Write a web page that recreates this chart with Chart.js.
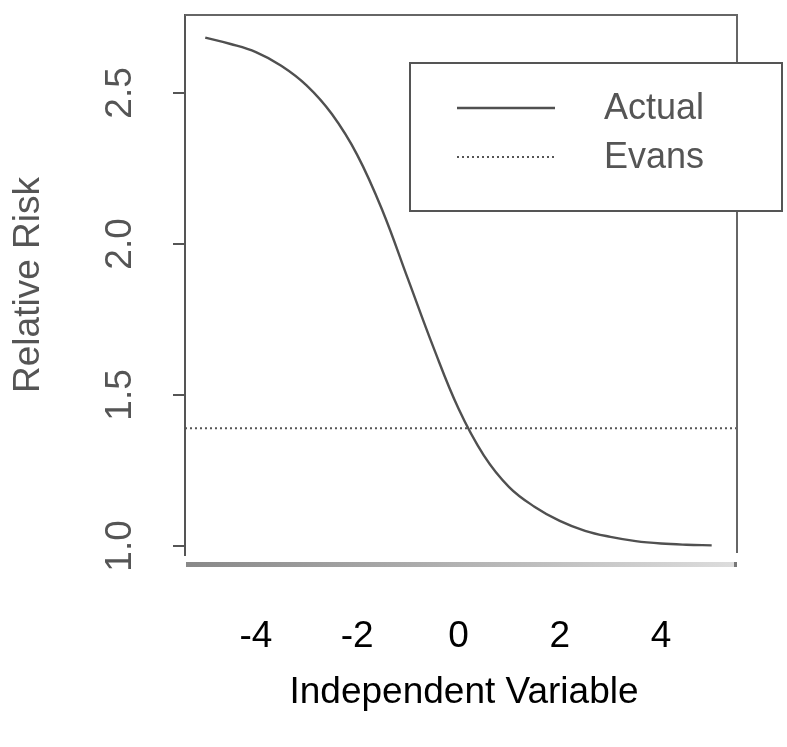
<!DOCTYPE html>
<html>
<head>
<meta charset="utf-8">
<script src="https://cdn.jsdelivr.net/npm/chart.js@4.4.1/dist/chart.umd.min.js"></script>
<style>
  html, body { margin: 0; padding: 0; background: #fff; }
  canvas { display: block; }
</style>
</head>
<body>
<canvas id="riskChart" width="787" height="747"></canvas>
<script>
// values
const actualX = [-5, -4.5, -4, -3.5, -3, -2.5, -2, -1.5, -1, -0.5, 0, 0.5, 1, 1.5, 2, 2.5, 3, 3.5, 4, 4.5, 5];
const actualY = [2.683, 2.662, 2.635, 2.59, 2.525, 2.43, 2.295, 2.11, 1.885, 1.66, 1.455, 1.30, 1.195, 1.13, 1.083, 1.05, 1.03, 1.016, 1.008, 1.004, 1.002];
const evansX = [-5.4, 5.5];
const evansY = [1.39, 1.39];
const xTicks = [-4, -2, 0, 2, 4];
const yTicks = [1.0, 1.5, 2.0, 2.5];
const xTitle = "Independent Variable";
const yTitle = "Relative Risk";

const FONT = "'Liberation Sans', Arial, Helvetica, sans-serif";
const GREY = "#555";

const toPoints = (xs, ys) => xs.map((x, i) => ({ x, y: ys[i] }));

// frame, rotated y labels, axis titles and the boxed legend, R style
const rFrame = {
  id: "rFrame",
  afterDraw(chart) {
    const { ctx, chartArea: a, scales } = chart;
    ctx.save();

    // top and right frame lines
    ctx.strokeStyle = "#666";
    ctx.lineWidth = 2;
    ctx.beginPath();
    ctx.moveTo(a.left, a.top);
    ctx.lineTo(a.right, a.top);
    ctx.lineTo(a.right, a.bottom - 2);
    ctx.stroke();

    // shaded bar under the plot
    const g = ctx.createLinearGradient(a.left, 0, a.right, 0);
    g.addColorStop(0, "#888");
    g.addColorStop(1, "#ddd");
    ctx.fillStyle = g;
    ctx.fillRect(a.left + 1, a.bottom + 7, a.right - a.left - 4, 5);
    ctx.fillStyle = "#777";
    ctx.fillRect(a.right - 3, a.bottom + 7, 3, 5);

    // y tick labels, rotated like R's las=0
    ctx.fillStyle = GREY;
    ctx.font = "37px " + FONT;
    ctx.textAlign = "center";
    ctx.textBaseline = "middle";
    yTicks.forEach(v => {
      const py = scales.y.getPixelForValue(v);
      ctx.save();
      ctx.translate(121, py);
      ctx.rotate(-Math.PI / 2);
      ctx.fillText(v.toFixed(1), 0, 0);
      ctx.restore();
    });

    // y title
    ctx.save();
    ctx.translate(29, (a.top + a.bottom) / 2);
    ctx.rotate(-Math.PI / 2);
    ctx.fillText(yTitle, 0, 0);
    ctx.restore();

    // x title
    ctx.fillStyle = "#000";
    ctx.fillText(xTitle, (a.left + a.right) / 2 + 3, 693);

    // legend box
    const bx = 410, by = 63, bw = 372, bh = 148;
    ctx.fillStyle = "#fff";
    ctx.fillRect(bx, by, bw, bh);
    ctx.strokeStyle = GREY;
    ctx.lineWidth = 2;
    ctx.strokeRect(bx, by, bw, bh);

    chart.data.datasets.forEach((ds, i) => {
      const ly = by + 45 + i * 49;
      ctx.strokeStyle = ds.borderColor;
      ctx.lineWidth = ds.borderWidth;
      ctx.setLineDash(ds.borderDash || []);
      ctx.beginPath();
      ctx.moveTo(457, ly);
      ctx.lineTo(555, ly);
      ctx.stroke();
      ctx.setLineDash([]);
      ctx.fillStyle = GREY;
      ctx.font = "36px " + FONT;
      ctx.textAlign = "left";
      ctx.fillText(ds.label, 604, ly + 1);
    });

    ctx.restore();
  }
};

new Chart(document.getElementById("riskChart"), {
  type: "line",
  data: {
    datasets: [
      {
        label: "Actual",
        data: toPoints(actualX, actualY),
        borderColor: "#505050",
        borderWidth: 2.4,
        pointRadius: 0,
        tension: 0.4,
        fill: false
      },
      {
        label: "Evans",
        data: toPoints(evansX, evansY),
        borderColor: "#555",
        borderWidth: 2,
        borderDash: [2, 3],
        pointRadius: 0,
        fill: false
      }
    ]
  },
  options: {
    responsive: false,
    animation: false,
    devicePixelRatio: 1,
    layout: { padding: { top: 15, right: 50, left: 0, bottom: 0 } },
    plugins: {
      legend: { display: false },
      tooltip: { enabled: false }
    },
    scales: {
      x: {
        type: "linear",
        min: -5.4,
        max: 5.5,
        afterBuildTicks: s => { s.ticks = xTicks.map(v => ({ value: v })); },
        afterFit: s => { s.height = 192; },
        grid: { display: false },
        border: { display: false },
        ticks: {
          color: "#000",
          font: { family: FONT, size: 37 },
          padding: 52,
          maxRotation: 0
        }
      },
      y: {
        type: "linear",
        min: 0.97,
        max: 2.758,
        afterBuildTicks: s => { s.ticks = yTicks.map(v => ({ value: v })); },
        afterFit: s => { s.width = 185; },
        grid: {
          drawOnChartArea: false,
          drawTicks: true,
          tickLength: 12,
          color: GREY,
          lineWidth: 2
        },
        border: { display: true, color: GREY, width: 2 },
        ticks: { display: false }
      }
    }
  },
  plugins: [rFrame]
});
</script>
</body>
</html>
